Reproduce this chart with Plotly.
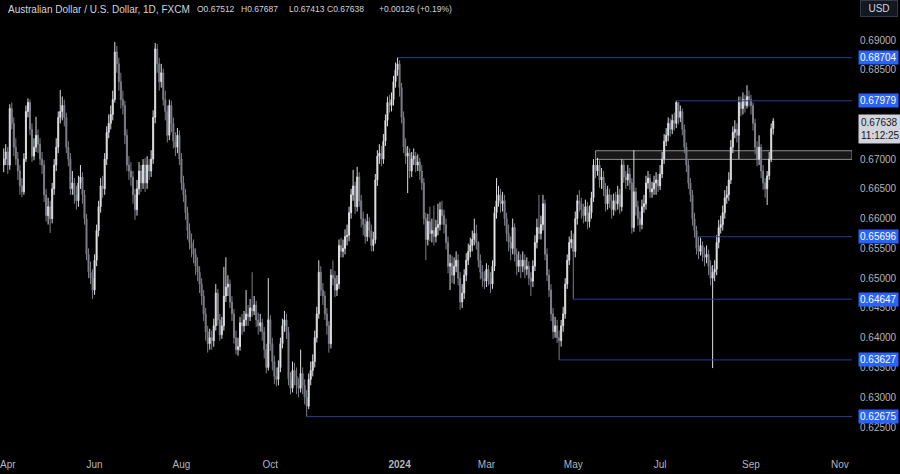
import plotly.graph_objects as go
import pandas as pd

# ---------------- data (prices in pips, 1 pip = 0.0001) ----------------
FIRST_OPEN = 6690
CLOSE = [
6700,6712,6690,6785,6760,6720,6700,6680,6655,6645,
6700,6780,6795,6750,6705,6720,6740,6725,6700,6690,
6640,6605,6620,6600,6650,6690,6720,6770,6780,6790,
6770,6720,6700,6650,6660,6640,6630,6660,6670,6640,
6600,6540,6510,6500,6480,6530,6580,6620,6655,
6650,6700,6745,6760,6775,6800,6880,6860,6830,6800,
6790,6740,6690,6680,6670,6640,6615,6650,6680,6660,
6690,6660,6690,6680,6700,6770,6885,6860,6830,6845,
6800,6780,6740,6790,6760,6730,6720,6740,6700,6660,
6640,6610,6580,6560,6550,6540,6520,6510,6490,6470,
6440,6410,6390,6400,6395,6420,6475,6430,6405,6420,
6470,6485,6490,6460,6440,6400,6380,6385,6425,6420,
6430,6440,6435,6450,6445,6455,6430,6420,6425,6410,
6380,6350,6430,6390,6360,6335,6330,6350,6390,6420,
6430,6410,6330,6315,6345,6335,6320,6315,6340,
6320,6300,6285,6330,6345,6360,6400,6440,6510,6480,
6470,6440,6420,6390,6505,6500,6480,6490,6555,6545,
6550,6570,6572,6610,6640,6655,6620,6670,6630,6600,
6590,6570,6595,6580,6555,6565,6665,6705,6710,6700,
6730,6765,6795,6790,6800,6830,6850,6860,6820,6770,
6720,6705,6710,6680,6700,6705,6690,6695,6680,6660,
6600,6565,6595,6575,6580,6570,6585,6590,6615,6605,
6590,6560,6520,6525,6505,6520,6530,6500,6460,6475,
6505,6530,6545,6555,6565,6575,6560,6530,6510,
6500,6495,6515,6500,6490,6520,6610,6630,6640,6625,
6630,6600,6575,6560,6550,6585,6540,6520,6530,6520,
6530,6515,6520,6500,6495,6520,6560,6585,6575,6590,
6625,6540,6505,6480,6440,6410,6420,6400,6395,6420,
6440,6490,6530,6560,6565,6545,6600,6630,6625,6615,
6605,6620,6595,6610,6635,6690,6680,6690,6665,6670,
6650,6625,6640,6630,6615,6630,6625,6640,6620,6690,
6670,6665,6675,6660,6585,6645,6620,6600,6590,6620,
6625,6660,6668,6645,6650,6660,6665,6655,6675,
6700,6730,6740,6760,6750,6765,6760,6795,6770,6780,
6750,6720,6690,6660,6640,6600,6580,6550,6545,6555,
6540,6535,6540,6520,6500,6510,6515,6560,6585,6590,
6610,6635,6640,6665,6720,6745,6750,6740,6795,6785,
6800,6790,6805,6800,6790,6760,6720,6700,6720,6680,
6660,6650,6672,6700,6751.2,6763.8,
]
HIGH = [
6718,6725,6720,6792,6795,6770,6735,6712,6690,6668,
6710,6790,6802,6800,6760,6735,6771,6750,6735,6712,
6698,6650,6635,6630,6660,6700,6735,6780,6816,6805,
6800,6778,6730,6710,6680,6668,6655,6672,6690,6678,
6648,6608,6550,6528,6515,6540,6590,6630,6668,
6672,6710,6755,6775,6790,6815,6897,6890,6870,6845,
6815,6798,6750,6705,6695,6680,6650,6665,6695,6690,
6700,6702,6705,6700,6715,6782,6895,6893,6870,6860,
6852,6815,6790,6800,6798,6770,6745,6752,6748,6710,
6672,6650,6620,6592,6575,6565,6550,6535,6520,6500,
6480,6450,6420,6415,6412,6432,6490,6482,6440,6435,
6519,6535,6505,6498,6470,6448,6412,6400,6435,6440,
6445,6480,6455,6465,6510,6470,6462,6442,6440,6432,
6418,6390,6500,6438,6400,6370,6350,6362,6400,6432,
6445,6440,6418,6342,6360,6358,6350,6332,6380,
6350,6330,6312,6340,6360,6372,6412,6452,6530,6520,
6492,6478,6450,6428,6515,6530,6512,6505,6565,6568,
6565,6582,6590,6620,6650,6682,6662,6687,6678,6640,
6612,6600,6608,6602,6590,6578,6675,6715,6725,6722,
6742,6775,6805,6808,6812,6840,6862,6870.4,6866,6828,
6780,6735,6722,6718,6712,6718,6712,6708,6702,6690,
6668,6610,6608,6620,6600,6622,6598,6625,6628,6630,
6615,6600,6570,6540,6538,6535,6545,6540,6510,6490,
6515,6542,6558,6568,6580,6600,6590,6562,6540,
6522,6512,6525,6522,6510,6530,6620,6668,6655,6650,
6645,6640,6610,6590,6570,6600,6592,6550,6545,6540,
6545,6540,6535,6528,6510,6530,6572,6600,6640,6605,
6640,6632,6550,6515,6490,6450,6435,6430,6412,6430,
6452,6500,6540,6570,6580,6575,6612,6640,6648,6635,
6625,6632,6628,6622,6645,6700,6710,6702,6698,6685,
6680,6660,6655,6650,6640,6642,6645,6655,6650,6700,
6698,6680,6690,6685,6668,6715,6652,6630,6612,6632,
6640,6672,6680,6675,6662,6672,6678,6675,6690,
6712,6742,6752,6770,6768,6775,6778,6797.9,6792,6790,
6785,6758,6728,6698,6668,6648,6610,6588,6569.6,6568,
6562,6552,6555,6548,6530,6522,6530,6572,6598,6605,
6622,6648,6655,6678,6732,6755,6765,6760,6805,6805,
6812,6808,6824,6815,6808,6795,6768,6730,6740,6725,
6690,6668,6680,6712,6760,6768.7,
]
LOW = [
6678,6690,6675,6682,6750,6705,6690,6665,6640,6636,
6640,6695,6770,6740,6695,6698,6712,6710,6690,6675,
6628,6595,6590,6576,6592,6640,6680,6710,6760,6765,
6755,6710,6688,6640,6640,6625,6615,6620,6650,6625,
6590,6530,6500,6490,6465,6472,6520,6570,6610,
6635,6640,6690,6735,6750,6765,6795,6845,6815,6785,
6775,6725,6680,6665,6655,6625,6598,6605,6640,6645,
6650,6645,6650,6665,6670,6692,6760,6845,6815,6820,
6790,6765,6728,6732,6745,6718,6705,6710,6690,6648,
6628,6598,6565,6548,6535,6525,6505,6495,6475,6455,
6428,6395,6375,6380,6380,6385,6412,6420,6395,6398,
6412,6460,6470,6450,6428,6390,6372,6370,6378,6405,
6410,6420,6420,6428,6435,6438,6418,6405,6410,6395,
6365,6340,6345,6378,6345,6322,6318,6320,6342,6382,
6410,6398,6320,6305,6308,6320,6305,6300,6308,
6305,6288,6267.5,6280,6320,6335,6350,6392,6432,6470,
6455,6430,6405,6375,6382,6488,6468,6470,6482,6535,
6535,6540,6555,6562,6600,6630,6608,6612,6620,6585,
6572,6558,6562,6568,6545,6545,6558,6655,6692,6688,
6692,6722,6755,6778,6780,6790,6820,6840,6805,6760,
6710,6692,6643,6668,6670,6690,6678,6680,6665,6648,
6590,6530,6555,6562,6560,6555,6560,6572,6580,6590,
6575,6548,6508,6480,6492,6490,6510,6488,6447,6450,
6465,6495,6522,6535,6545,6555,6548,6518,6498,
6485,6482,6485,6488,6475,6482,6512,6600,6620,6610,
6612,6588,6562,6545,6530,6540,6528,6505,6510,6500,
6510,6500,6505,6488,6470,6485,6512,6550,6565,6565,
6580,6530,6495,6468,6428,6398,6400,6391,6362.7,6385,
6410,6432,6482,6522,6550,6464.7,6535,6590,6612,6600,
6592,6595,6582,6585,6600,6628,6668,6672,6652,6650,
6638,6612,6615,6618,6600,6605,6612,6615,6608,6612,
6660,6650,6655,6648,6575,6578,6605,6588,6578,6582,
6610,6615,6650,6635,6635,6640,6640,6645,6648,
6668,6692,6722,6730,6738,6742,6748,6752,6758,6762,
6740,6710,6678,6650,6628,6588,6568,6540,6532,6538,
6528,6520,6525,6505,6488,6349,6495,6505,6550,6575,
6580,6600,6625,6630,6658,6710,6735,6728,6700,6772,
6775,6778,6785,6788,6775,6748,6708,6688,6690,6668,
6648,6635,6623,6665,6695,6741.3,
]

START, END = "2023-03-30", "2024-09-17"
HOLIDAYS = ["2023-12-25", "2024-01-01"]

LEVELS = [0.68704, 0.67979, 0.65696, 0.64647, 0.63627, 0.62675]
LEVEL_LABELS = ["0.68704", "0.67979", "0.65696", "0.64647", "0.63627", "0.62675"]
LEVEL_BARS = [195, 333, 344, 282, 275, 150]

ZONE_BAR = 293
ZONE_LOW, ZONE_HIGH = 0.66995, 0.67140

# 0.67500 is hidden behind the live-price label in the reference
Y_TICKS = [0.625, 0.630, 0.635, 0.640, 0.645, 0.650, 0.655,
           0.660, 0.665, 0.670, 0.680, 0.685, 0.690]
Y_TICK_TEXT = ["0.62500", "0.63000", "0.63500", "0.64000", "0.64500", "0.65000", "0.65500",
               "0.66000", "0.66500", "0.67000", "0.68000", "0.68500", "0.69000"]

X_TICK_MONTHS = ["2023-04", "2023-06", "2023-08", "2023-10", "2024-01",
                 "2024-03", "2024-05", "2024-07", "2024-09", "2024-11"]
X_TICK_TEXT = ["Apr", "Jun", "Aug", "Oct", "<b>2024</b>", "Mar", "May", "Jul", "Sep", "Nov"]

LAST = dict(o="0.67512", h="0.67687", l="0.67413", c="0.67638", chg="+0.00126 (+0.19%)")
CURRENT_PRICE = 0.67638
COUNTDOWN = "11:12:25"

# ---------------- build ----------------
n = len(CLOSE)
opens = [FIRST_OPEN] + CLOSE[:-1]
o = [v / 10000 for v in opens]
c = [v / 10000 for v in CLOSE]
h = [max(a, b, d) / 10000 for a, b, d in zip(HIGH, opens, CLOSE)]
l = [min(a, b, d) / 10000 for a, b, d in zip(LOW, opens, CLOSE)]

all_days = pd.bdate_range(START, "2024-11-30")
all_days = all_days[~all_days.isin(pd.to_datetime(HOLIDAYS))]
dates = all_days[all_days <= pd.Timestamp(END)]
offset = len(dates) - n  # align last bar to END
month_str = list(all_days.strftime("%Y-%m"))
tickvals = [month_str.index(m) - offset for m in X_TICK_MONTHS]

x = list(range(n))

FONT = "Liberation Sans, Arial, sans-serif"
PLOT_W = 852
fig = go.Figure()
fig.add_trace(go.Candlestick(
    x=x, open=o, high=h, low=l, close=c,
    increasing=dict(line=dict(color="#dcdde2", width=1), fillcolor="#ffffff"),
    decreasing=dict(line=dict(color="#7c7f88", width=1), fillcolor="#7c7f88"),
    whiskerwidth=0, hoverinfo="skip", showlegend=False,
))

XMAX = 420.0
shapes = [dict(type="rect", xref="x", yref="y", x0=ZONE_BAR, x1=XMAX,
               y0=ZONE_LOW, y1=ZONE_HIGH, line=dict(color="#8c8c8c", width=1),
               fillcolor="#181818", layer="below")]
for lv, b in zip(LEVELS, LEVEL_BARS):
    shapes.append(dict(type="line", xref="x", yref="y", x0=b, x1=XMAX, y0=lv, y1=lv,
                       line=dict(color="#2e3a94", width=1), layer="above"))

ann = []
for lv, txt in zip(LEVELS, LEVEL_LABELS):
    ann.append(dict(xref="paper", yref="y", x=1, y=lv, xanchor="left", yanchor="middle",
                    xshift=6, text=txt, showarrow=False, bgcolor="#2962ff",
                    font=dict(family=FONT, size=10, color="#ffffff"), borderpad=1))
ann.append(dict(xref="paper", yref="y", x=1, y=CURRENT_PRICE, xanchor="left", yanchor="top",
                xshift=6, yshift=7, text=f"{CURRENT_PRICE:.5f}<br>{COUNTDOWN}", showarrow=False,
                bgcolor="#d1d4dc", font=dict(family=FONT, size=10, color="#131722"),
                borderpad=2, align="left"))
ann.append(dict(xref="paper", yref="paper", x=879 / PLOT_W, y=1, xanchor="center", yanchor="top",
                text="USD", showarrow=False, bgcolor="#131722", bordercolor="#363a45",
                borderwidth=1, width=34, height=13, borderpad=1,
                font=dict(family=FONT, size=10, color="#d1d4dc")))
header = [(3, "Australian Dollar / U.S. Dollar, 1D, FXCM", 10),
          (193, "O" + LAST["o"], 8.5), (237, "H" + LAST["h"], 8.5), (285, "L" + LAST["l"], 8.5),
          (323, "C" + LAST["c"], 8.5), (375, LAST["chg"], 8.5)]
for px, txt, fs in header:
    ann.append(dict(xref="paper", yref="paper", x=px / PLOT_W, y=1, xanchor="left", yanchor="top",
                    yshift=-2, text=txt, showarrow=False,
                    font=dict(family=FONT, size=fs, color="#d1d4dc")))

fig.update_layout(
    width=900, height=474, autosize=False,
    margin=dict(l=0, r=900 - PLOT_W, t=0, b=24),
    paper_bgcolor="#000000", plot_bgcolor="#000000",
    shapes=shapes, annotations=ann, showlegend=False,
    xaxis=dict(range=[-0.35, XMAX], showgrid=False, zeroline=False, showline=False,
               tickvals=tickvals, ticktext=X_TICK_TEXT, ticks="",
               tickfont=dict(family=FONT, size=10, color="#b2b5be"),
               ticklabelstandoff=7, ticklabeloverflow="allow",
               rangeslider=dict(visible=False), fixedrange=True),
    yaxis=dict(range=[0.62114, 0.69672], side="right", showgrid=False, zeroline=False,
               showline=False, tickvals=Y_TICKS, ticktext=Y_TICK_TEXT, ticks="",
               tickfont=dict(family=FONT, size=10, color="#b2b5be"),
               ticklabelstandoff=7, fixedrange=True),
)
fig.write_html("out.html", config={"displayModeBar": False},
               post_script="document.body.style.margin='0';document.body.style.background='#000';")
